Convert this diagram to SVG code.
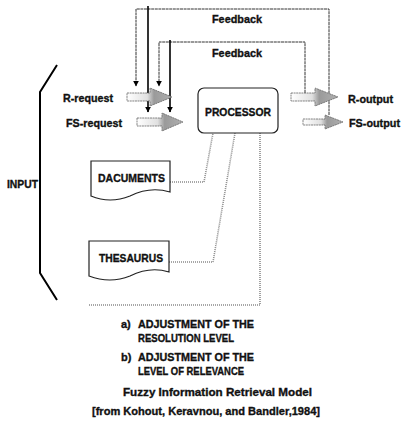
<svg xmlns="http://www.w3.org/2000/svg" width="402" height="423" viewBox="0 0 402 423">
<style>
text{font-family:"Liberation Sans",Arial,sans-serif;font-weight:bold;font-size:11px;fill:#111;stroke:#111;stroke-width:0.35}
.frame{fill:none;stroke:#333;stroke-width:1;stroke-dasharray:3 0.6}
.thick{fill:none;stroke:#000;stroke-width:1.6}
.dot{fill:none;stroke:#8a8a8a;stroke-width:1.6;stroke-dasharray:1 1}
.box{fill:#fff;stroke:#222;stroke-width:1.2}
.big{fill:url(#g);stroke:#666;stroke-width:0.8;stroke-dasharray:2 0.6}
</style>
<defs>
<marker id="ah" viewBox="0 0 10 10" refX="9" refY="5" markerWidth="6" markerHeight="6" orient="auto" markerUnits="userSpaceOnUse">
<path d="M0,0 L10,5 L0,10 Z" fill="#000"/>
</marker>
<linearGradient id="g" x1="0" y1="0" x2="1" y2="0">
<stop offset="0" stop-color="#fff"/>
<stop offset="0.45" stop-color="#e0e0e0"/>
<stop offset="0.6" stop-color="#9a9a9a"/>
<stop offset="1" stop-color="#b0b0b0"/>
</linearGradient>
</defs>

<g id="connectors">
<path class="frame" d="M329,115 V9 H136 V86" marker-end="url(#ah)"/>
<path class="thick" d="M148,6 V112" marker-end="url(#ah)"/>
<path class="frame" d="M305,93 V42 H159 V86" marker-end="url(#ah)"/>
<path class="thick" d="M170,40 V112" marker-end="url(#ah)"/>
<polyline class="dot" points="170,182 204,182 213,133"/>
<polyline class="dot" points="169,262 213,262 235,133"/>
<polyline class="dot" points="260,133 260,305 88,305"/>
<path class="big" d="M127,93 H150 V88 L172,97 L150,106 V101 H127 Z"/>
<path class="big" d="M137,118 H162 V113 L183,122 L162,131 V126 H137 Z"/>
<path class="big" d="M291,93 H315 V88 L338,97 L315,106 V101 H291 Z"/>
<path class="big" d="M303,119 H325 V115 L343,122 L325,129 V125 H303 Z"/>
</g>

<g id="input">
<polyline points="57,65 40,92 40,273 57,300" fill="none" stroke="#000" stroke-width="2"/>
<text x="7" y="188" textLength="31" lengthAdjust="spacingAndGlyphs">INPUT</text>
</g>

<g id="feedback-outer"><text x="212" y="23" textLength="50" lengthAdjust="spacingAndGlyphs">Feedback</text></g>
<g id="feedback-inner"><text x="212" y="57" textLength="50" lengthAdjust="spacingAndGlyphs">Feedback</text></g>

<g id="r-request"><text x="63" y="102" textLength="50" lengthAdjust="spacingAndGlyphs">R-request</text></g>
<g id="fs-request"><text x="66" y="127" textLength="56" lengthAdjust="spacingAndGlyphs">FS-request</text></g>
<g id="r-output"><text x="348" y="103" textLength="45" lengthAdjust="spacingAndGlyphs">R-output</text></g>
<g id="fs-output"><text x="349" y="127" textLength="51" lengthAdjust="spacingAndGlyphs">FS-output</text></g>

<g id="processor">
<rect class="box" x="198" y="88" width="80" height="45" rx="6"/>
<text x="205" y="116" textLength="66" lengthAdjust="spacingAndGlyphs">PROCESSOR</text>
</g>

<g id="documents">
<path class="box" d="M91,161 H170 V192 Q150,186 130,196 Q110,204 91,196 Z"/>
<text x="98" y="182" textLength="67" lengthAdjust="spacingAndGlyphs">DACUMENTS</text>
</g>

<g id="thesaurus">
<path class="box" d="M89,241 H169 V272 Q150,266 130,276 Q110,284 89,276 Z"/>
<text x="99" y="262" textLength="64" lengthAdjust="spacingAndGlyphs">THESAURUS</text>
</g>

<g id="notes">
<text x="121" y="328">a)</text>
<text x="138" y="328" textLength="116" lengthAdjust="spacingAndGlyphs">ADJUSTMENT OF THE</text>
<text x="138" y="342" textLength="96" lengthAdjust="spacingAndGlyphs">RESOLUTION LEVEL</text>
<text x="121" y="361">b)</text>
<text x="138" y="361" textLength="116" lengthAdjust="spacingAndGlyphs">ADJUSTMENT OF THE</text>
<text x="138" y="375" textLength="106" lengthAdjust="spacingAndGlyphs">LEVEL OF RELEVANCE</text>
<text x="123" y="396" textLength="189" lengthAdjust="spacingAndGlyphs">Fuzzy Information Retrieval Model</text>
<text x="92" y="415" textLength="228" lengthAdjust="spacingAndGlyphs">[from Kohout, Keravnou, and Bandler,1984]</text>
</g>
</svg>
